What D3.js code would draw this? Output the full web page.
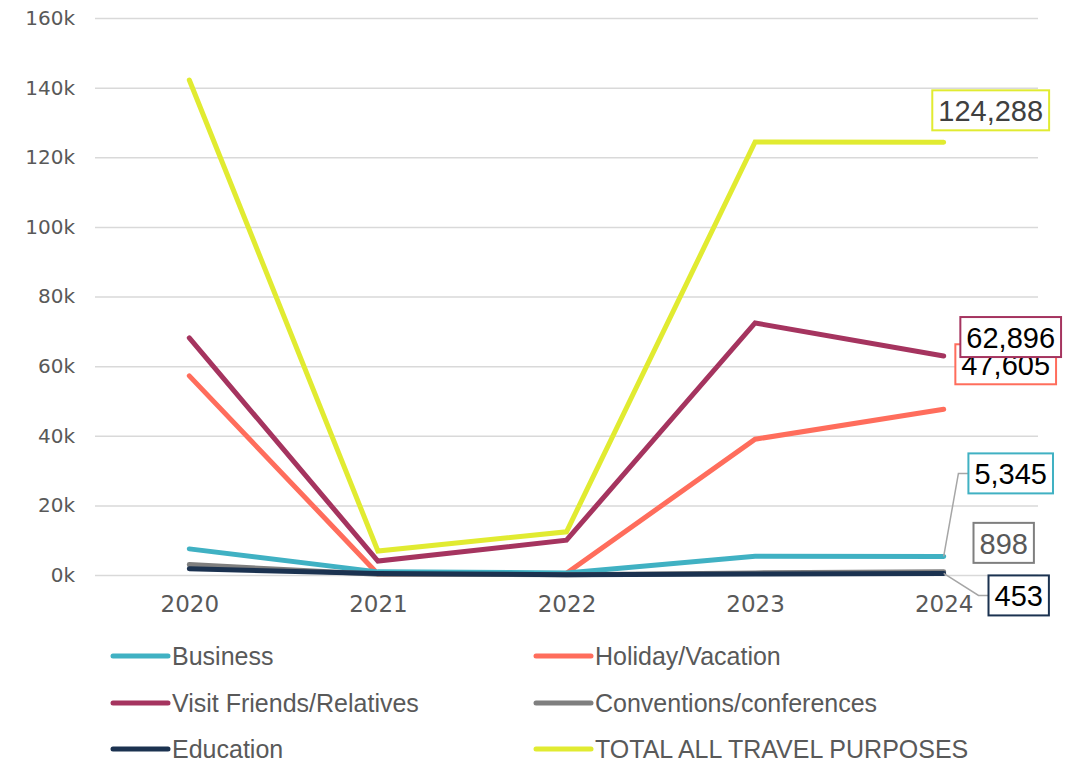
<!DOCTYPE html>
<html>
<head>
<meta charset="utf-8">
<script src="https://cdn.jsdelivr.net/npm/d3@7"></script>
<style>
  body { margin: 0; background: #fff; }
  svg { display: block; }
</style>
</head>
<body>
<svg id="chart" width="1076" height="764"></svg>
<script>
const years = ['2020', '2021', '2022', '2023', '2024'];
const yTicks = [0, 20000, 40000, 60000, 80000, 100000, 120000, 140000, 160000];

const business = [7500, 900, 600, 5400, 5345];
const holiday = [57200, 300, 500, 39000, 47605];
const visitFriends = [68100, 4000, 10000, 72400, 62896];
const conventions = [3000, 200, 100, 600, 898];
const education = [1800, 400, 100, 300, 453];
const totalAll = [142200, 6900, 12400, 124400, 124288];

const seriesNames = ['Business', 'Holiday/Vacation', 'Visit Friends/Relatives',
  'Conventions/conferences', 'Education', 'TOTAL ALL TRAVEL PURPOSES'];

const color = {
  'Business': '#40b1c3',
  'Holiday/Vacation': '#ff6d5c',
  'Visit Friends/Relatives': '#a5345f',
  'Conventions/conferences': '#7f7f7f',
  'Education': '#1b3250',
  'TOTAL ALL TRAVEL PURPOSES': '#e1eb31'
};

const series = [
  { name: 'TOTAL ALL TRAVEL PURPOSES', values: totalAll },
  { name: 'Holiday/Vacation', values: holiday },
  { name: 'Visit Friends/Relatives', values: visitFriends },
  { name: 'Business', values: business },
  { name: 'Conventions/conferences', values: conventions },
  { name: 'Education', values: education }
];

// end labels: box center offset from the last point, text colour, leader line
const labelPos = {
  'TOTAL ALL TRAVEL PURPOSES': { dx: 47, dy: -32, text: '#404040', leader: false },
  'Visit Friends/Relatives': { dx: 67, dy: -19, text: '#000', leader: false },
  'Holiday/Vacation': { dx: 62, dy: -45, text: '#000', leader: false },
  'Business': { dx: 67, dy: -83, text: '#000', leader: true },
  'Conventions/conferences': { dx: 60, dy: -29, text: '#595959', leader: false },
  'Education': { dx: 75, dy: 22, text: '#000', leader: true }
};

const margin = { top: 18, right: 38, bottom: 189, left: 95 };
const width = 1076, height = 764;

const svg = d3.select('#chart');

const x = d3.scalePoint(years, [margin.left, width - margin.right]).padding(0.5);
const y = d3.scaleLinear([0, 160000], [height - margin.bottom, margin.top]);

const fontAxis = '"DejaVu Sans", Verdana, sans-serif';
const fontText = '"Liberation Sans", Arial, sans-serif';

// grid + y labels
const yAxis = svg.append('g')
  .attr('transform', `translate(${margin.left},0)`)
  .call(d3.axisLeft(y).tickValues(yTicks).tickFormat(d => (d / 1000) + 'k')
    .tickSize(-(width - margin.left - margin.right)).tickPadding(20));
yAxis.select('.domain').remove();
yAxis.selectAll('.tick line').attr('stroke', '#d9d9d9').attr('stroke-width', 1.5);
yAxis.selectAll('.tick text')
  .attr('font-family', fontAxis).attr('font-size', 20).attr('fill', '#595959');

// x labels
const xAxis = svg.append('g')
  .attr('transform', `translate(0,${height - margin.bottom})`)
  .call(d3.axisBottom(x).tickSize(0).tickPadding(21));
xAxis.select('.domain').remove();
xAxis.selectAll('.tick text')
  .attr('font-family', fontAxis).attr('font-size', 23).attr('fill', '#595959');

// lines
const line = d3.line()
  .x((d, i) => x(years[i]))
  .y(d => y(d));

svg.append('g')
  .selectAll('path')
  .data(series)
  .join('path')
    .attr('d', d => line(d.values))
    .attr('fill', 'none')
    .attr('stroke', d => color[d.name])
    .attr('stroke-width', 5)
    .attr('stroke-linejoin', 'miter')
    .attr('stroke-linecap', 'round');

// end labels
const labelGroup = svg.append('g');
const labelOrder = ['Business', 'Conventions/conferences', 'Education', 'Holiday/Vacation',
  'Visit Friends/Relatives', 'TOTAL ALL TRAVEL PURPOSES'];
labelOrder.forEach(name => {
  const s = series.find(d => d.name === name);
  const last = s.values[s.values.length - 1];
  const px = x(years[years.length - 1]), py = y(last);
  const pos = labelPos[name];
  const cx = px + pos.dx, cy = py + pos.dy;
  const g = labelGroup.append('g');
  const t = g.append('text')
    .attr('x', cx).attr('y', cy + 1)
    .attr('text-anchor', 'middle')
    .attr('dominant-baseline', 'central')
    .attr('font-family', fontText)
    .attr('font-size', 29)
    .attr('fill', pos.text)
    .text(d3.format(',')(last));
  const bb = t.node().getBBox();
  const padX = 6, boxH = 40;
  if (pos.leader) {
    const edgeX = cx - bb.width / 2 - padX;
    g.insert('polyline', 'text')
      .attr('points', [[px, py], [edgeX - 10, cy], [edgeX, cy]].map(p => p.join(',')).join(' '))
      .attr('fill', 'none')
      .attr('stroke', '#a6a6a6')
      .attr('stroke-width', 1.5);
  }
  g.insert('rect', 'text')
    .attr('x', cx - bb.width / 2 - padX)
    .attr('y', cy - boxH / 2)
    .attr('width', bb.width + padX * 2)
    .attr('height', boxH)
    .attr('fill', '#fff')
    .attr('stroke', color[name])
    .attr('stroke-width', 2);
});

// legend
const legendCols = [113, 536];
const legendRows = [656, 703, 749];
const legend = svg.append('g')
  .selectAll('g')
  .data(seriesNames)
  .join('g')
    .attr('transform', (d, i) => `translate(${legendCols[i % 2]},${legendRows[Math.floor(i / 2)]})`);
legend.append('line')
  .attr('x1', 0).attr('x2', 55)
  .attr('stroke', d => color[d])
  .attr('stroke-width', 5)
  .attr('stroke-linecap', 'round');
legend.append('text')
  .attr('x', 59)
  .attr('dominant-baseline', 'central')
  .attr('font-family', fontText)
  .attr('font-size', 25)
  .attr('fill', '#595959')
  .text(d => d);
</script>
</body>
</html>
